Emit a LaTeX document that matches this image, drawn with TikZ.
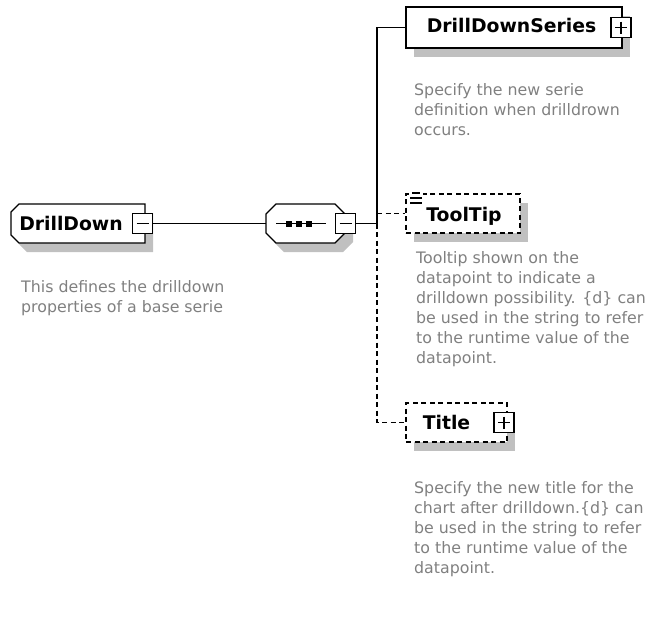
\documentclass[tikz,border=0pt]{standalone}
\usepackage{fontspec}
\setmainfont{DejaVu Sans}
\usetikzlibrary{shadows}
\definecolor{shadowgray}{RGB}{192,192,192}
\definecolor{descgray}{RGB}{128,128,128}
\tikzset{
  elem/.style={draw, line width=1.4pt, fill=white, rectangle, inner sep=0pt,
    drop shadow={shadow xshift=8pt, shadow yshift=-9pt, fill=shadowgray, opacity=1, draw=none}},
  optelem/.style={elem, dash pattern=on 5pt off 3.5pt},
  anchorbox/.style={rectangle, inner sep=0pt, draw=none},
  outline/.style={draw, line width=1.4pt, fill=white},
  signbox/.style={draw, line width=1.3pt, fill=white, inner sep=0pt, minimum size=20pt},
  minusbox/.style={signbox, path picture={\draw[line width=1.2pt]
    ([xshift=4pt]path picture bounding box.west) -- ([xshift=-4pt]path picture bounding box.east);}},
  plusbox/.style={signbox, path picture={\draw[line width=1.2pt]
    ([xshift=4pt]path picture bounding box.west) -- ([xshift=-4pt]path picture bounding box.east)
    ([yshift=-4pt]path picture bounding box.north) -- ([yshift=4pt]path picture bounding box.south);}},
  eltitle/.style={font=\fontsize{18.8}{22}\selectfont\bfseries, inner sep=0pt, anchor=base},
  desc/.style={font=\fontsize{15.8}{20}\selectfont, text=descgray, anchor=base west, inner sep=0pt},
  conn/.style={line width=1.4pt},
  optconn/.style={conn, dash pattern=on 5pt off 3.5pt},
}
\begin{document}
\begin{tikzpicture}[x=1pt,y=-1pt]
\useasboundingbox (0,0) rectangle (649,622);

% DrillDown element (left corners chamfered)
\begin{scope}[shift={(8,9)}]
  \fill[shadowgray] (19,204) -- (145,204) -- (145,243) -- (19,243) -- (11,235) -- (11,212) -- cycle;
\end{scope}
\draw[outline] (19,204) -- (145,204) -- (145,243) -- (19,243) -- (11,235) -- (11,212) -- cycle;
\node[anchorbox, minimum width=134pt, minimum height=39pt] (dd) at (78,223.5) {};
\node[eltitle] (ddt) at (71,230) {DrillDown};
\node[minusbox] (ddm) at (142.5,223.5) {};
\node[desc] (ddd1) at (21,292) {This defines the drilldown};
\node[desc] (ddd2) at (21,312) {properties of a base serie};

% sequence compositor (octagon)
\begin{scope}[shift={(8,9)}]
  \fill[shadowgray] (276,204) -- (335,204) -- (345,214) -- (345,233) -- (335,243) -- (276,243) -- (266,233) -- (266,214) -- cycle;
\end{scope}
\draw[outline] (276,204) -- (335,204) -- (345,214) -- (345,233) -- (335,243) -- (276,243) -- (266,233) -- (266,214) -- cycle;
\node[anchorbox, minimum width=79pt, minimum height=39pt] (seq) at (305.5,223.5) {};
\draw[line width=1.4pt] (276,223.5) -- (326,223.5);
\foreach \sx in {289,299,309} {\fill (\sx-3,220.5) rectangle (\sx+3,226.5);}
\node[minusbox] (seqm) at (345.5,223.5) {};

\draw[conn] (ddm.east) -- (seq.west);
\coordinate (j) at (377,223.5);
\draw[conn] (seqm.east) -- (j);

% DrillDownSeries
\node[elem, minimum width=216pt, minimum height=41pt] (dds) at (514,27.5) {};
\node[eltitle] (ddst) at (511.5,32) {DrillDownSeries};
\node[plusbox] (ddsp) at (621,27.5) {};
\node[desc] (ddsd1) at (414,95) {Specify the new serie};
\node[desc] (ddsd2) at (414,115) {definition when drilldrown};
\node[desc] (ddsd3) at (414,135) {occurs.};

% ToolTip
\node[optelem, minimum width=114pt, minimum height=39pt] (tt) at (463,213.5) {};
\node[eltitle] (ttt) at (464,221) {ToolTip};
\fill[white] (409,191) rectangle (423,205);
\draw[line width=1.2pt] (412,193) -- (420,193) (410,198) -- (422,198) (410,203) -- (422,203);
\node[desc] (ttd1) at (416,263) {Tooltip shown on the};
\node[desc] (ttd2) at (416,283) {datapoint to indicate a};
\node[desc] (ttd3) at (416,303) {drilldown possibility. \{d\} can};
\node[desc] (ttd4) at (416,323) {be used in the string to refer};
\node[desc] (ttd5) at (416,343) {to the runtime value of the};
\node[desc] (ttd6) at (416,363) {datapoint.};

% Title
\node[optelem, minimum width=101pt, minimum height=39pt] (ti) at (456.5,422.5) {};
\node[eltitle] (tit) at (446.5,429) {Title};
\node[plusbox] (tip) at (504,422.5) {};
\node[desc] (tid1) at (414,493) {Specify the new title for the};
\node[desc] (tid2) at (414,513) {chart after drilldown.\{d\} can};
\node[desc] (tid3) at (414,533) {be used in the string to refer};
\node[desc] (tid4) at (414,553) {to the runtime value of the};
\node[desc] (tid5) at (414,573) {datapoint.};

% connectors
\draw[conn] (j) |- (dds.west);
\draw[optconn] (j |- tt.west) -- (tt.west);
\draw[optconn] (j) |- (ti.west);
\end{tikzpicture}
\end{document}
